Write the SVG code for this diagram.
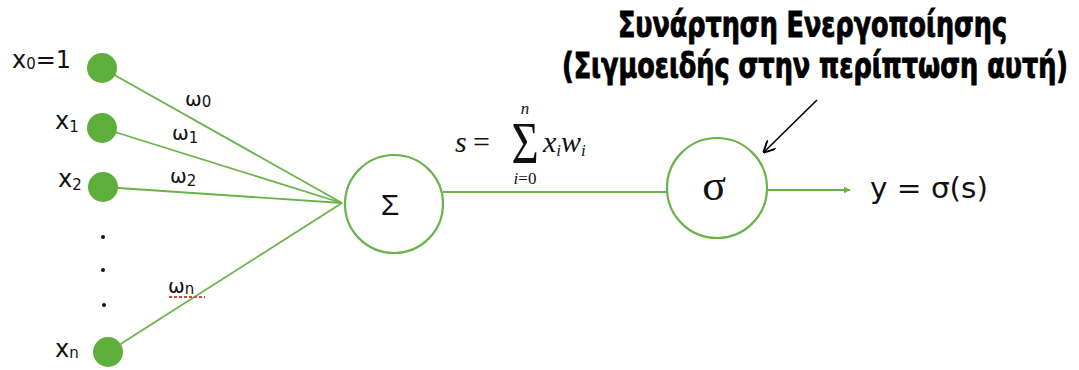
<svg xmlns="http://www.w3.org/2000/svg" width="1079" height="370" viewBox="0 0 1079 370">
<style>
.in{fill:#5eae3b;}
.edge{stroke:#6ab34a;stroke-width:1.8;fill:none;}
.neuron{fill:#ffffff;stroke:#6ab34a;stroke-width:2.2;}
.hand{font-family:"DejaVu Sans",sans-serif;fill:#111;}
.sub{font-size:15px;}
.wt{font-family:"DejaVu Sans",sans-serif;font-size:20px;fill:#111;}
.title{font-family:"DejaVu Sans Condensed","DejaVu Sans",sans-serif;font-weight:bold;font-size:27px;fill:#000;stroke:#000;stroke-width:0.7;}
.math{font-family:"Liberation Serif",serif;fill:#111;}
</style>
<defs>
<marker id="ag" viewBox="0 0 10 10" refX="9" refY="5" markerWidth="7" markerHeight="7" markerUnits="userSpaceOnUse" orient="auto"><path d="M0,0 L10,5 L0,10 z" fill="#6ab34a"/></marker>
<marker id="ab" viewBox="0 0 10 10" refX="9" refY="5" markerWidth="12" markerHeight="12" markerUnits="userSpaceOnUse" orient="auto"><path d="M0,0 L10,5 L0,10" fill="none" stroke="#000" stroke-width="1.6"/></marker>
</defs>
<rect width="1079" height="370" fill="#ffffff"/>

<g id="connectors">
<line class="edge" x1="102" y1="68" x2="342" y2="203"/>
<line class="edge" x1="102" y1="128" x2="342" y2="203"/>
<line class="edge" x1="103" y1="187" x2="342" y2="203"/>
<line class="edge" x1="108" y1="352" x2="342" y2="203"/>
<line class="edge" x1="443" y1="192" x2="667" y2="192"/>
<line class="edge" x1="767" y1="190" x2="850" y2="190" marker-end="url(#ag)"/>
<line x1="817" y1="100" x2="764" y2="152" stroke="#000" stroke-width="1.6" marker-end="url(#ab)"/>
<text class="wt" x="185" y="106">ω<tspan class="sub" dy="1">0</tspan></text>
<text class="wt" x="172" y="140">ω<tspan class="sub" dy="3">1</tspan></text>
<text class="wt" x="170" y="183">ω<tspan class="sub" dy="3">2</tspan></text>
<text class="wt" x="168" y="293">ω<tspan class="sub" dy="1">n</tspan></text>
<line x1="169" y1="297" x2="205" y2="297" stroke="#d9473a" stroke-width="1.8" stroke-dasharray="3,2"/>
</g>

<g id="x0">
<circle class="in" cx="102" cy="68" r="15"/>
<text class="hand" x="12" y="68" font-size="24">x<tspan class="sub" dy="1">0</tspan><tspan dy="-1">=1</tspan></text>
</g>
<g id="x1">
<circle class="in" cx="102" cy="128" r="15"/>
<text class="hand" x="55" y="129" font-size="24">x<tspan class="sub" dy="3">1</tspan></text>
</g>
<g id="x2">
<circle class="in" cx="103" cy="187" r="15"/>
<text class="hand" x="58" y="187" font-size="24">x<tspan class="sub" dy="3">2</tspan></text>
</g>
<g id="dots">
<circle cx="103" cy="237" r="2" fill="#111"/>
<circle cx="103" cy="270" r="2" fill="#111"/>
<circle cx="104" cy="305" r="2" fill="#111"/>
</g>
<g id="xn">
<circle class="in" cx="108" cy="352" r="15"/>
<text class="hand" x="55" y="357" font-size="24">x<tspan class="sub" dy="1">n</tspan></text>
</g>

<g id="sum">
<circle class="neuron" cx="394" cy="204" r="49"/>
<text x="390" y="215" font-family="Liberation Sans,sans-serif" font-size="30" text-anchor="middle" fill="#111">Σ</text>
</g>

<g id="formula">
<text class="math" x="455" y="152" font-size="30" font-style="italic">s</text>
<text class="math" x="473" y="152" font-size="30">=</text>
<text class="math" font-size="60" text-anchor="middle" transform="translate(525,163) scale(0.78,1)">Σ</text>
<text class="math" x="525" y="114" font-size="17" font-style="italic" text-anchor="middle">n</text>
<text class="math" x="525" y="184" font-size="17" text-anchor="middle"><tspan font-style="italic">i</tspan>=0</text>
<text class="math" x="543" y="152" font-size="30" font-style="italic">x<tspan font-size="17" dy="4">i</tspan><tspan dy="-4">w</tspan><tspan font-size="17" dy="4">i</tspan></text>
</g>

<g id="sigma">
<circle class="neuron" cx="717" cy="188" r="50"/>
<text x="714" y="200" font-family="Liberation Serif,serif" font-size="44" text-anchor="middle" fill="#111">σ</text>
</g>

<g id="output">
<text class="hand" x="870" y="198" font-size="28" textLength="118" lengthAdjust="spacingAndGlyphs">y = σ(s)</text>
</g>

<g id="label">
<text class="title" x="618" y="0" transform="translate(0,37) scale(1,1.3)" textLength="389" lengthAdjust="spacingAndGlyphs">Συνάρτηση Ενεργοποίησης</text>
<text class="title" x="562" y="0" transform="translate(0,78) scale(1,1.3)" textLength="506" lengthAdjust="spacingAndGlyphs">(Σιγμοειδής στην περίπτωση αυτή)</text>
</g>
</svg>
